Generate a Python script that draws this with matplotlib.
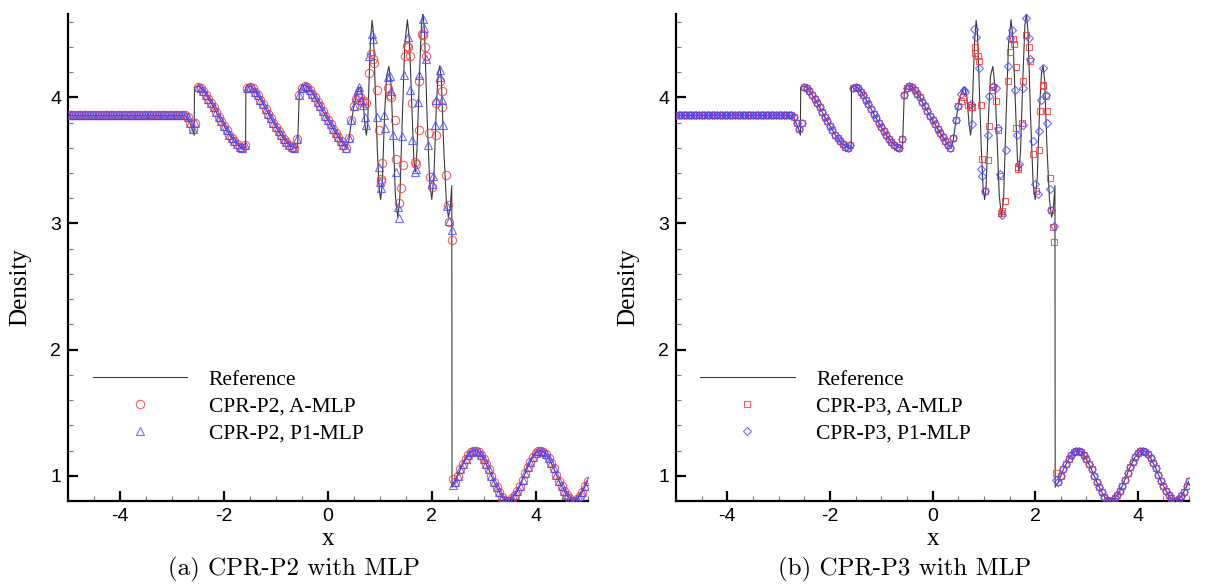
import numpy as np
import matplotlib.pyplot as plt
from matplotlib.ticker import MultipleLocator

plt.rcParams['axes.unicode_minus'] = False

# ---------------------
# Reference solution (fine mesh), knots along the curve
# ---------------------
ref_x = [-5.0, -2.78, -2.72, -2.67, -2.62, -2.575, -2.57, -2.50, -2.45, -2.40,
         -2.30, -2.20, -2.10, -2.00, -1.90, -1.80, -1.70, -1.64, -1.585, -1.58,
         -1.50, -1.45, -1.40, -1.30, -1.20, -1.10, -1.00, -0.90, -0.80, -0.70,
         -0.62, -0.585, -0.55, -0.50, -0.45, -0.40, -0.30, -0.20, -0.10, 0.0,
         0.10, 0.20, 0.30, 0.36, 0.40, 0.45, 0.50, 0.55, 0.60, 0.63,
         0.67, 0.71, 0.74, 0.765, 0.79, 0.82, 0.85, 0.875, 0.91, 0.95,
         0.985, 1.015, 1.045, 1.09, 1.13, 1.175, 1.215, 1.26, 1.30, 1.345,
         1.385, 1.43, 1.48, 1.53, 1.57, 1.62, 1.655, 1.685, 1.715, 1.76,
         1.80, 1.83, 1.86, 1.91, 1.96, 2.0, 2.04, 2.09, 2.125, 2.155,
         2.185, 2.23, 2.28, 2.32, 2.355, 2.385, 2.39]
ref_y = [3.857, 3.857, 3.845, 3.81, 3.76, 3.70, 4.08, 4.088, 4.078, 4.055,
         3.99, 3.92, 3.845, 3.775, 3.705, 3.65, 3.61, 3.598, 3.60, 4.08,
         4.09, 4.075, 4.05, 3.985, 3.91, 3.835, 3.765, 3.70, 3.645, 3.61,
         3.598, 3.60, 4.05, 4.09, 4.095, 4.085, 4.035, 3.965, 3.89, 3.82,
         3.75, 3.685, 3.625, 3.598, 3.65, 3.80, 3.93, 4.02, 4.075, 4.08,
         4.0, 3.80, 3.70, 3.78, 4.10, 4.45, 4.61, 4.52, 4.1, 3.6,
         3.28, 3.19, 3.3, 3.85, 4.17, 4.245, 4.1, 3.65, 3.22, 3.05,
         3.2, 3.8, 4.42, 4.615, 4.45, 3.9, 3.5, 3.41, 3.58, 4.15,
         4.57, 4.67, 4.52, 3.85, 3.32, 3.19, 3.36, 3.95, 4.2, 4.25,
         4.13, 3.6, 3.18, 3.05, 3.12, 3.30, 0.91]

# ---------------------
# Smooth parts where all schemes coincide
# ---------------------
flat_x = np.arange(-5.0, -2.79, 0.05)
flat_y = [3.857] * len(flat_x)

wave_x = np.arange(-2.75, 0.51, 0.05)
wave_y = [3.856, 3.84, 3.80, 3.745, 3.80, 4.08, 4.075, 4.05, 4.02, 3.99,
          3.955, 3.92, 3.88, 3.845, 3.81, 3.775, 3.74, 3.705, 3.675, 3.65,
          3.628, 3.61, 3.60, 3.62,
          4.07, 4.085, 4.07, 4.045, 4.015, 3.98, 3.945, 3.91, 3.87, 3.835,
          3.80, 3.765, 3.73, 3.70, 3.67, 3.645, 3.625, 3.61, 3.60, 3.67,
          4.02, 4.075, 4.09, 4.08, 4.06, 4.03, 4.00, 3.965, 3.93, 3.89,
          3.855, 3.82, 3.785, 3.75, 3.715, 3.685, 3.655, 3.625, 3.60, 3.68,
          3.82, 3.93]

post_x = np.arange(2.45, 5.01, 0.05)
post_y = [0.95, 1.00, 1.05, 1.09, 1.13, 1.165, 1.19, 1.20, 1.20, 1.19,
          1.165, 1.13, 1.09, 1.05, 1.00, 0.95, 0.91, 0.87, 0.835, 0.81,
          0.80, 0.80, 0.82, 0.85, 0.88, 0.92, 0.97, 1.02, 1.07, 1.11,
          1.15, 1.18, 1.195, 1.20, 1.19, 1.17, 1.14, 1.10, 1.06, 1.01,
          0.96, 0.92, 0.88, 0.845, 0.82, 0.80, 0.80, 0.815, 0.84, 0.875,
          0.915, 0.96]

# ---------------------
# Interaction region, per scheme
# ---------------------
p2_amlp_x = [0.55, 0.58, 0.62, 0.65, 0.70, 0.74, 0.80, 0.836, 0.86, 0.88,
             0.945, 0.977, 1.02, 1.03, 1.05, 1.157, 1.19, 1.22, 1.285, 1.305,
             1.36, 1.41, 1.44, 1.478, 1.53, 1.55, 1.58, 1.626, 1.67, 1.70,
             1.754, 1.76, 1.82, 1.84, 1.87, 1.88, 1.94, 1.96, 2.00, 2.075,
             2.09, 2.15, 2.19, 2.20, 2.28, 2.31, 2.34, 2.385, 2.40]
p2_amlp_y = [3.99, 4.02, 4.00, 3.96, 3.97, 3.955, 4.19, 4.34, 4.30, 4.27,
             4.06, 3.74, 3.35, 3.34, 3.48, 4.07, 4.02, 4.00, 3.82, 3.51,
             3.16, 3.28, 3.46, 4.33, 4.41, 4.40, 4.33, 3.955, 3.49, 3.47,
             3.74, 4.13, 4.50, 4.49, 4.40, 4.33, 3.72, 3.37, 3.29, 3.70,
             3.955, 4.13, 4.05, 3.92, 3.385, 3.15, 3.01, 2.87, 0.976]

p2_p1mlp_x = [0.55, 0.58, 0.60, 0.64, 0.67, 0.72, 0.74, 0.80, 0.85, 0.87,
              0.94, 0.99, 1.01, 1.02, 1.08, 1.10, 1.16, 1.19, 1.22, 1.25,
              1.31, 1.35, 1.37, 1.42, 1.46, 1.54, 1.59, 1.62, 1.67, 1.69,
              1.73, 1.76, 1.83, 1.85, 1.88, 1.92, 2.00, 2.02, 2.06, 2.08,
              2.15, 2.16, 2.20, 2.22, 2.29, 2.33, 2.38, 2.40]
p2_p1mlp_y = [4.0, 4.06, 4.08, 3.98, 3.94, 3.84, 3.78, 4.33, 4.50, 4.46,
              3.84, 3.45, 3.33, 3.28, 3.86, 3.76, 4.16, 4.17, 4.05, 3.70,
              3.41, 3.13, 3.04, 3.69, 4.18, 4.48, 4.06, 3.66, 3.41, 3.43,
              3.96, 4.18, 4.62, 4.55, 4.30, 3.62, 3.31, 3.38, 3.78, 3.98,
              4.16, 4.22, 3.98, 3.78, 3.14, 3.02, 2.95, 0.93]

p3_amlp_x = [0.56, 0.60, 0.69, 0.74, 0.77, 0.82, 0.835, 0.88, 0.90, 0.95,
             0.97, 1.02, 1.08, 1.11, 1.15, 1.17, 1.23, 1.27, 1.31, 1.34,
             1.36, 1.42, 1.48, 1.50, 1.56, 1.58, 1.62, 1.63, 1.66, 1.67,
             1.75, 1.76, 1.83, 1.88, 1.90, 1.95, 2.01, 2.07, 2.10, 2.15,
             2.16, 2.21, 2.23, 2.28, 2.31, 2.34, 2.37, 2.41]
p3_amlp_y = [3.97, 4.0, 3.94, 3.92, 3.92, 4.35, 4.40, 4.33, 4.29, 3.94,
             3.51, 3.26, 3.50, 3.77, 4.06, 4.08, 3.97, 3.74, 3.38, 3.08,
             3.10, 3.18, 4.13, 4.36, 4.46, 4.42, 4.24, 3.76, 3.45, 3.43,
             3.80, 4.13, 4.49, 4.40, 4.29, 3.55, 3.26, 3.58, 3.89, 4.09,
             4.10, 4.01, 3.89, 3.36, 3.11, 2.97, 2.85, 1.02]

p3_p1mlp_x = [0.56, 0.62, 0.64, 0.75, 0.76, 0.80, 0.85, 0.90, 0.95, 0.96,
              1.03, 1.08, 1.11, 1.18, 1.24, 1.27, 1.31, 1.36, 1.44, 1.47,
              1.50, 1.55, 1.60, 1.64, 1.69, 1.76, 1.77, 1.82, 1.88, 1.90,
              1.95, 1.99, 2.05, 2.08, 2.12, 2.16, 2.21, 2.24, 2.29, 2.31,
              2.37, 2.40]
p3_p1mlp_y = [4.03, 4.06, 4.04, 3.95, 3.79, 4.54, 4.48, 4.23, 3.43, 3.38,
              3.26, 3.70, 4.01, 4.09, 4.07, 3.76, 3.39, 3.07, 3.58, 4.25,
              4.47, 4.53, 4.06, 3.70, 3.47, 3.78, 4.07, 4.63, 4.47, 4.30,
              3.65, 3.31, 3.23, 3.73, 3.98, 4.23, 4.02, 3.80, 3.27, 3.11,
              2.98, 0.97]

labels_p2 = ['CPR-P2, A-MLP', 'CPR-P2, P1-MLP']
labels_p3 = ['CPR-P3, A-MLP', 'CPR-P3, P1-MLP']

red = '#f03a3a'
blue = '#4848ff'
serif = 'Liberation Serif'


def full_series(x_mid, y_mid):
    # shared smooth parts + the scheme-specific interaction region
    x = np.concatenate([flat_x, wave_x, x_mid, post_x])
    y = np.concatenate([flat_y, wave_y, y_mid, post_y])
    return x, y


def draw_panel(ax, series, markers, sizes, labels):
    line_x = np.concatenate([ref_x, post_x])
    line_y = np.concatenate([ref_y, post_y])
    ax.plot(line_x, line_y, color='#3a3a3a', lw=0.8, label='Reference', zorder=2)
    colors = [red, blue]
    for (sx, sy), mk, ms, c, lab in zip(series, markers, sizes, colors, labels):
        ax.plot(sx, sy, ls='none', marker=mk, ms=ms, mfc='none', mec=c,
                mew=0.8, alpha=0.8, label=lab, zorder=3)

    ax.set_xlim(-5, 5)
    ax.set_ylim(0.8, 4.66)
    ax.xaxis.set_major_locator(MultipleLocator(2))
    ax.xaxis.set_minor_locator(MultipleLocator(0.5))
    ax.yaxis.set_major_locator(MultipleLocator(1))
    ax.yaxis.set_minor_locator(MultipleLocator(0.2))
    ax.tick_params(which='major', direction='in', length=7.5, width=1.6,
                   labelsize=14, pad=5)
    ax.tick_params(which='minor', direction='in', length=3.8, width=0.8,
                   color='#777777')
    for lab in ax.get_xticklabels() + ax.get_yticklabels():
        lab.set_fontfamily('Liberation Sans')
    for side in ['top', 'right']:
        ax.spines[side].set_visible(False)
    for side in ['left', 'bottom']:
        ax.spines[side].set_linewidth(1.6)

    ax.set_xlabel('x', fontfamily=serif, fontsize=18)
    ax.set_ylabel('Density', fontfamily=serif, fontsize=18)
    ax.xaxis.set_label_coords(0.5, -0.055)
    ax.yaxis.set_label_coords(-0.072, 0.44)

    ax.legend(loc='upper left', bbox_to_anchor=(0.047, 0.27), frameon=False,
              prop={'family': serif, 'size': 15.5}, handlelength=4.4,
              handletextpad=1.0, labelspacing=0.33, borderpad=0,
              borderaxespad=0)


fig = plt.figure(figsize=(12.06, 5.85), dpi=100)
ax1 = fig.add_axes([0.0566, 0.1436, 0.4306, 0.8324])
ax2 = fig.add_axes([0.5605, 0.1436, 0.4255, 0.8324])

draw_panel(ax1,
           [full_series(p2_amlp_x, p2_amlp_y), full_series(p2_p1mlp_x, p2_p1mlp_y)],
           ['o', '^'], [6.0, 5.5], labels_p2)
draw_panel(ax2,
           [full_series(p3_amlp_x, p3_amlp_y), full_series(p3_p1mlp_x, p3_p1mlp_y)],
           ['s', 'D'], [5.0, 3.9], labels_p3)

fig.text(0.244, 0.026, '(a) CPR-P2 with MLP', fontfamily='cmr10', fontsize=18,
         ha='center', va='center')
fig.text(0.750, 0.026, '(b) CPR-P3 with MLP', fontfamily='cmr10', fontsize=18,
         ha='center', va='center')

fig.savefig('out.png', dpi=100)
